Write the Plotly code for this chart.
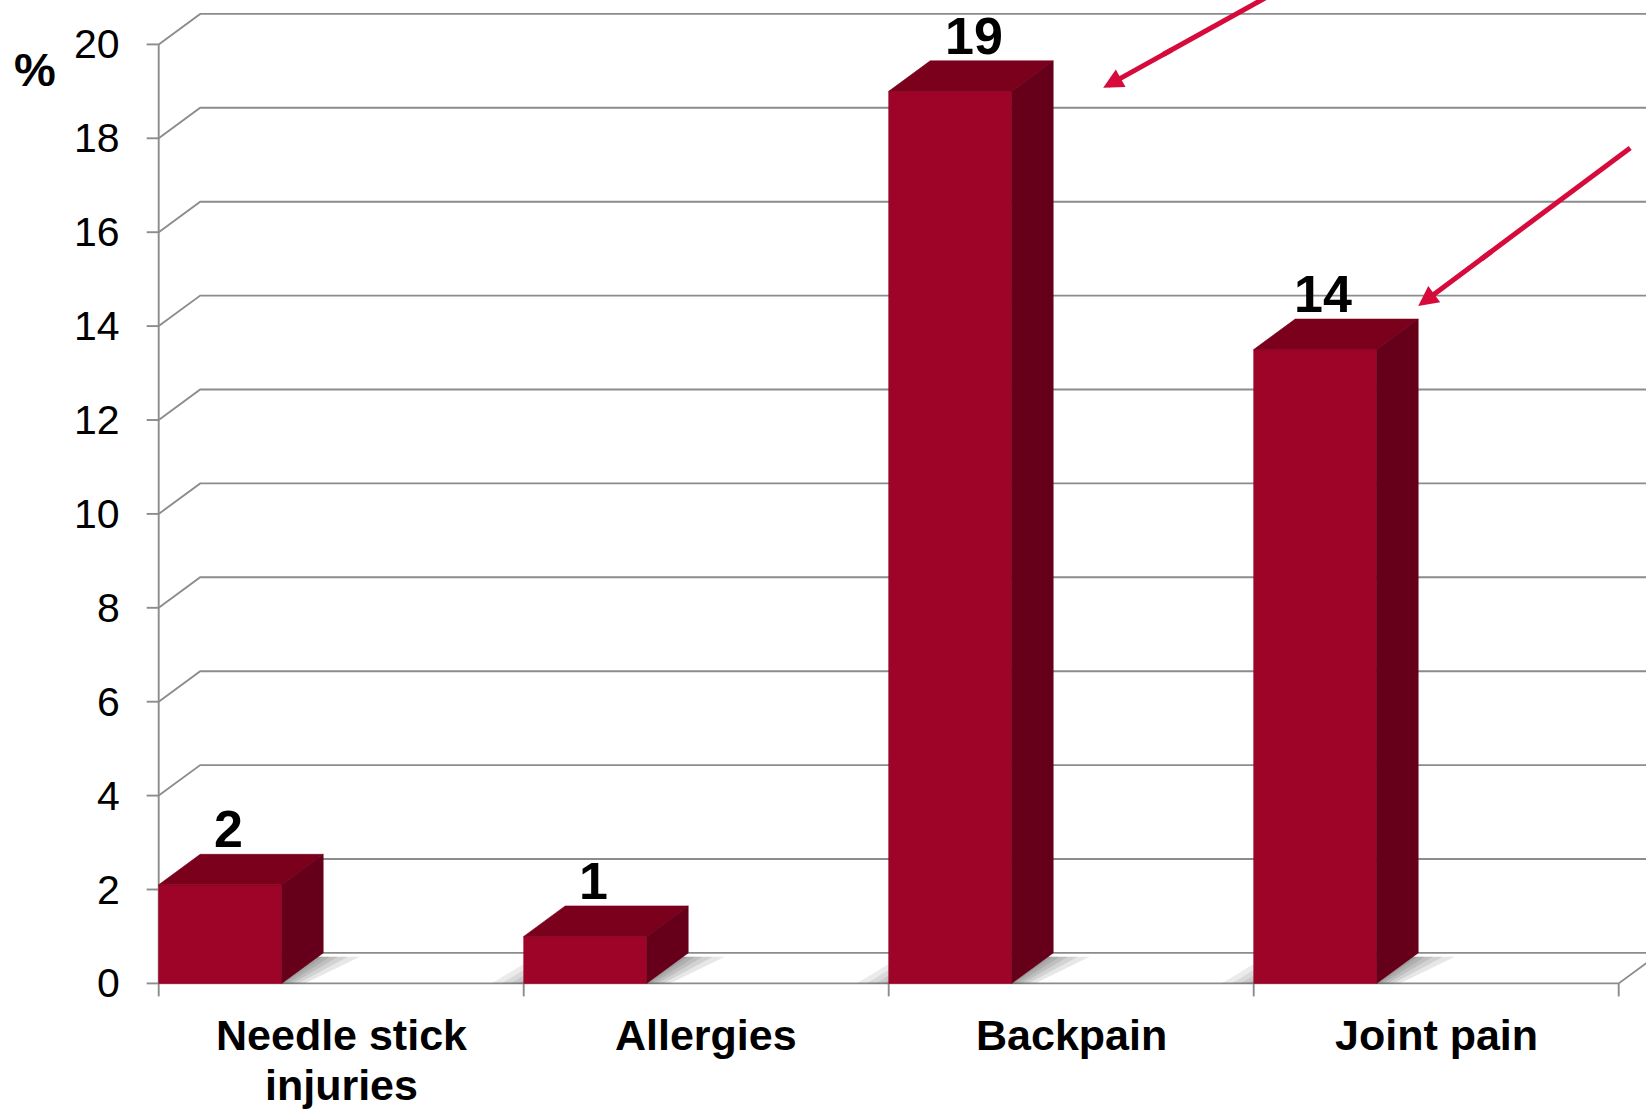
import plotly.graph_objects as go

# ---------------- data ----------------
categories = ["Needle stick<br>injuries", "Allergies", "Backpain", "Joint pain"]
values = [2.1, 1.0, 19.0, 13.5]
value_labels = ["2", "1", "19", "14"]
y_ticks = [0, 2, 4, 6, 8, 10, 12, 14, 16, 18, 20]
highlighted = ["Backpain", "Joint pain"]

# ---------------- geometry / style ----------------
W, H = 1646, 1109
PXX = 365.0      # pixels per category
PXY = 46.95      # pixels per % unit
X0PX = 158.7     # pixel x of category axis start
Y0PX = 983.4     # pixel y of value 0
DX = 41.5 / PXX  # 3D depth offset (x, data units)
DY = 30.5 / PXY  # 3D depth offset (y, data units)
BW = 123.0 / PXX # bar front-face width

FRONT = "#9E0328"
TOP = "#7A001C"
SIDE = "#66001A"
GRID = "#8C8C8C"
ARROW = "#D60B3B"
FONT = "Liberation Sans, Arial, sans-serif"

# label nudges (pixels) and arrow geometry
# (tip shift x, tip shift y, tail dx, tail dy, tail extension factor) in pixels
label_nudge = {"Backpain": 16}
arrow_specs = {"Backpain": (50, -27, 200, -111, 1.4),
               "Joint pain": (0, 13, 212, -158, 1.0)}

n = len(categories)
plain = [c.replace("<br>", " ") for c in categories]
xr = [-X0PX / PXX, (W - X0PX) / PXX]
yr = [-(H - Y0PX) / PXY, Y0PX / PXY]

fig = go.Figure()

# ---- walls: gridlines (side wall diagonals + back wall) ----
gx, gy = [], []
for v in y_ticks:
    gx += [0, DX, n + DX, None]
    gy += [v, v + DY, v + DY, None]
gx += [0, n, n + DX, None, 0, 0, None]
gy += [0, 0, DY, None, 0, y_ticks[-1], None]
fig.add_trace(go.Scatter(x=gx, y=gy, mode="lines",
                         line=dict(color=GRID, width=1.9), hoverinfo="skip"))

# ---- tick marks ----
tx, ty = [], []
for v in y_ticks:
    tx += [-12 / PXX, 0, None]
    ty += [v, v, None]
for i in range(n + 1):
    tx += [i, i, None]
    ty += [0, -13 / PXY, None]
fig.add_trace(go.Scatter(x=tx, y=ty, mode="lines",
                         line=dict(color=GRID, width=1.9), hoverinfo="skip"))

# ---- soft floor shadows ----
for i, h in enumerate(values):
    xs = i + BW
    f = 0.87
    for s in [5, 12, 20, 30, 42]:
        sp = s / PXX
        fig.add_trace(go.Scatter(
            x=[xs, xs + DX * f, xs + DX * f + sp, xs + sp * 0.55, xs],
            y=[0, DY * f, DY * f, 0, 0],
            fill="toself", mode="lines", line=dict(width=0),
            fillcolor="rgba(70,70,70,0.13)", hoverinfo="skip"))
    if i > 0:
        for s in [6, 13, 22, 32]:
            sp = s / PXX
            fig.add_trace(go.Scatter(
                x=[i, i, i - sp, i],
                y=[0, DY * 0.02 * s, 0, 0],
                fill="toself", mode="lines", line=dict(width=0),
                fillcolor="rgba(70,70,70,0.11)", hoverinfo="skip"))

# ---- 3D bars ----
for i, h in enumerate(values):
    faces = [
        ([i, i + BW, i + BW, i, i], [0, 0, h, h, 0], FRONT),
        ([i, i + BW, i + BW + DX, i + DX, i], [h, h, h + DY, h + DY, h], TOP),
        ([i + BW, i + BW + DX, i + BW + DX, i + BW, i + BW], [0, DY, h + DY, h, 0], SIDE),
    ]
    for fx, fy, c in faces:
        fig.add_trace(go.Scatter(x=fx, y=fy, fill="toself", mode="lines",
                                 line=dict(color=c, width=0.6), fillcolor=c,
                                 hoverinfo="skip"))

# ---- arrow shafts ----
for name in highlighted:
    i = plain.index(name)
    xs_, ys_, ax, ay, ext = arrow_specs[name]
    tipx = i + BW + DX + xs_ / PXX
    tipy = values[i] + DY + ys_ / PXY
    fig.add_trace(go.Scatter(x=[tipx + ax / PXX * 0.3, tipx + ax / PXX * ext],
                             y=[tipy - ay / PXY * 0.3, tipy - ay / PXY * ext],
                             mode="lines", line=dict(color=ARROW, width=5),
                             hoverinfo="skip"))

ann = []
for v in y_ticks:
    ann.append(dict(x=0, y=v, xref="x", yref="y", text=str(v), showarrow=False,
                    xanchor="right", yanchor="middle", xshift=-37,
                    font=dict(family=FONT, size=41, color="#000000")))
ann.append(dict(x=0, y=y_ticks[-1], xref="x", yref="y", text="<b>%</b>", showarrow=False,
                xanchor="center", yanchor="middle", xshift=-124, yshift=-25,
                font=dict(family=FONT, size=47, color="#000000")))
for i, c in enumerate(categories):
    for k, line in enumerate(c.split("<br>")):
        ann.append(dict(x=i + 0.5, y=0, xref="x", yref="y", text="<b>" + line + "</b>",
                        showarrow=False, xanchor="center", yanchor="top",
                        yshift=-26 - 49.5 * k,
                        font=dict(family=FONT, size=43, color="#000000")))
for i, (h, lab) in enumerate(zip(values, value_labels)):
    ann.append(dict(x=i + BW / 2 + (8 + label_nudge.get(plain[i], 0)) / PXX, y=h + DY,
                    xref="x", yref="y",
                    text="<b>" + lab + "</b>", showarrow=False,
                    xanchor="center", yanchor="bottom", yshift=-6,
                    font=dict(family=FONT, size=52, color="#000000")))
for name in highlighted:
    i = plain.index(name)
    xs_, ys_, ax, ay, ext = arrow_specs[name]
    ann.append(dict(x=i + BW + DX, y=values[i] + DY, xref="x", yref="y", text="",
                    showarrow=True, arrowhead=2, arrowsize=0.8, arrowwidth=5,
                    arrowcolor=ARROW, ax=ax * 0.35, ay=ay * 0.35,
                    axref="pixel", ayref="pixel", xshift=xs_, yshift=ys_))

fig.update_layout(
    width=W, height=H,
    margin=dict(l=0, r=0, t=0, b=0),
    paper_bgcolor="white", plot_bgcolor="white",
    showlegend=False,
    xaxis=dict(range=xr, visible=False, fixedrange=True),
    yaxis=dict(range=yr, visible=False, fixedrange=True),
    annotations=ann,
)

fig.write_html("out.html")
